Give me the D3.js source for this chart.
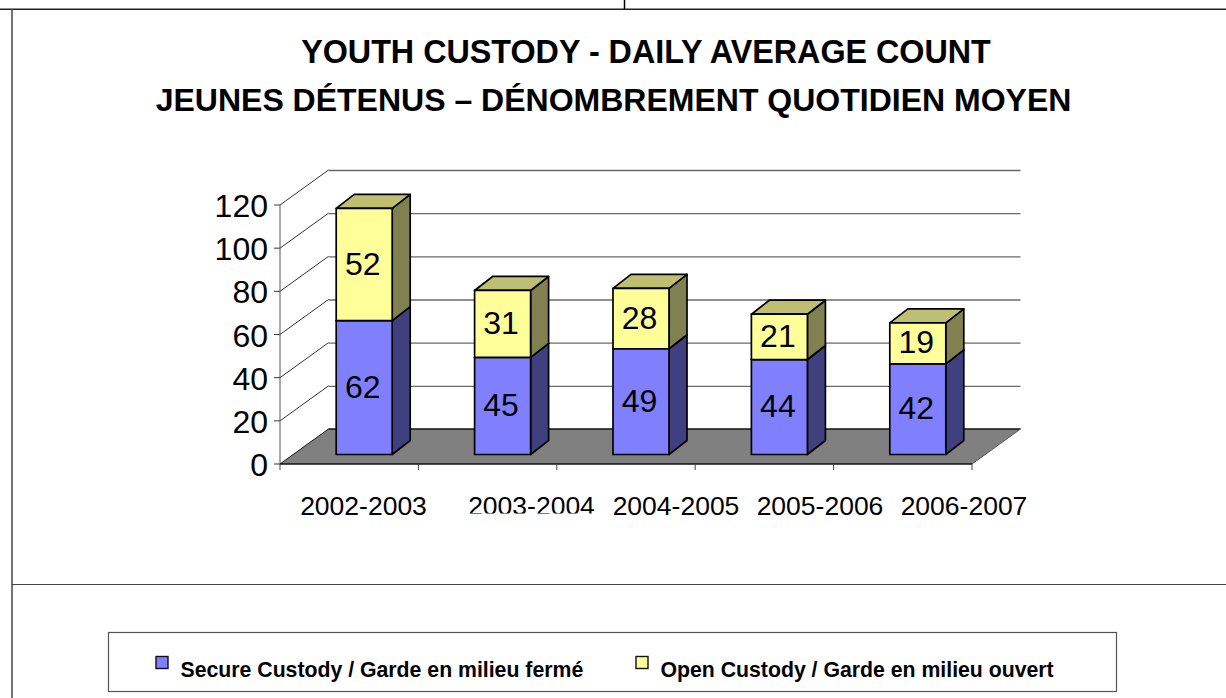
<!DOCTYPE html>
<html><head><meta charset="utf-8">
<script src="https://cdn.jsdelivr.net/npm/d3@7"></script>
<style>html,body{margin:0;padding:0;background:#fff}svg{display:block}text{font-family:"Liberation Sans",Arial,sans-serif;fill:#000}</style>
</head><body><svg id="c" width="1226" height="698"></svg>
<script>
const categories=["2002-2003","2003-2004","2004-2005","2005-2006","2006-2007"];
const secure=[62,45,49,44,42];
const open=[52,31,28,21,19];
const yTicks=[0,20,40,60,80,100,120];
const titleLines=["YOUTH CUSTODY - DAILY AVERAGE COUNT","JEUNES DÉTENUS – DÉNOMBREMENT QUOTIDIEN MOYEN"];
const legendLabels=["Secure Custody / Garde en milieu fermé","Open Custody / Garde en milieu ouvert"];

const svg=d3.select("#c");
const x=d3.scaleBand().domain(categories).range([280,972]);
const y=d3.scaleLinear().domain([0,120]).range([464,205]);
const backDx=48.5,backDy=-35,barDx=18,barDy=-14,barInX=15,barInY=-9.5,barW=56;
const poly=(pts,f,s,w)=>svg.append("polygon").attr("points",pts.map(p=>p.join(",")).join(" ")).attr("fill",f).attr("stroke",s).attr("stroke-width",w).attr("stroke-linejoin","round");
const line=(a,b,c,d,s,w)=>svg.append("line").attr("x1",a).attr("y1",b).attr("x2",c).attr("y2",d).attr("stroke",s).attr("stroke-width",w||1);

// frame
line(0,9.2,1226,9.2,"#222",1.6);
line(624.5,0,624.5,9,"#000",1.5);
line(12,9,12,698,"#444",1.5);
line(12,584.5,1226,584.5,"#444",1.2);

// titles
svg.selectAll("text.t").data(titleLines).join("text").attr("class","t")
 .attr("x",(d,i)=>i?613.5:646).attr("y",(d,i)=>i?111:62.5).attr("text-anchor","middle")
 .attr("font-size",(d,i)=>i?32:32.3).attr("font-weight","bold").text(d=>d);

// walls, gridlines
const x0=x.range()[0],x1=x.range()[1];
yTicks.forEach(t=>{
  if(t>0){ line(x0+backDx,y(t)+backDy+.5,x1+backDx,y(t)+backDy+.5,"#6a6a6a",1.4);
  line(x0,y(t),x0+backDx,y(t)+backDy,"#333",1);}
  line(x0-6,y(t),x0,y(t),"#333",1);
});
line(x0,y(0),x0,y(120),"#555",1);
// floor
poly([[x0,y(0)],[x1,y(0)],[x1+backDx,y(0)+backDy],[x0+backDx,y(0)+backDy]],"#808080","none",0);
line(x0,y(0),x1,y(0),"#111",1.6);
line(x0,y(0),x0+backDx,y(0)+backDy,"#111",1);
line(x0+backDx,y(0)+backDy,x1+backDx,y(0)+backDy,"#111",1.4);
line(x1,y(0),x1+backDx,y(0)+backDy,"#555",1);
// x ticks
d3.range(categories.length+1).forEach(i=>{const tx=x0+i*x.step();line(tx,y(0),tx,y(0)+6,"#444",1);});

// bars
const seg=[{vals:secure,f:"#8080ff",side:"#404080",top:"#606099",base:()=>0},{vals:open,f:"#ffff99",side:"#808050",top:"#bfbf73",base:i=>secure[i]}];
seg.forEach(s=>{
 categories.forEach((c,i)=>{
  const l=x(c)+barInX+x.step()/2-barW/2,r=l+barW;
  const yb=y(s.base(i))+barInY,yt=y(s.base(i)+s.vals[i])+barInY;
  poly([[r,yb],[r+barDx,yb+barDy],[r+barDx,yt+barDy],[r,yt]],s.side,"#000",1.7);
  poly([[l,yt],[r,yt],[r+barDx,yt+barDy],[l+barDx,yt+barDy]],s.top,"#000",1.7);
  poly([[l,yb],[r,yb],[r,yt],[l,yt]],s.f,"#000",1.7);
  svg.append("text").attr("x",(l+r)/2-1.5).attr("y",(yb+yt)/2+10).attr("text-anchor","middle").attr("font-size",32).text(s.vals[i]);
 });
});

// axis labels
yTicks.forEach(t=>svg.append("text").attr("x",268).attr("y",y(t)+12).attr("text-anchor","end").attr("font-size",32).text(t));
const labelX=[363.5,531.5,676,820,964];
svg.append("defs").append("clipPath").attr("id","cut").append("rect").attr("x",460).attr("y",480).attr("width",145).attr("height",33.5);
categories.forEach((c,i)=>{
  const t=svg.append("text").attr("x",labelX[i]).attr("y",515).attr("text-anchor","middle").attr("font-size",26.5).text(c);
  if(i===1) t.attr("clip-path","url(#cut)");
});

// legend
svg.append("rect").attr("x",108.5).attr("y",632.5).attr("width",1008).attr("height",59).attr("fill","#fff").attr("stroke","#555").attr("stroke-width",1.2);
[[156,"#8080ff",180.5],[636,"#ffff99",660.5]].forEach((d,i)=>{
  svg.append("rect").attr("x",d[0]).attr("y",656.5).attr("width",12).attr("height",12).attr("fill",d[1]).attr("stroke","#111").attr("stroke-width",1.4);
  svg.append("text").attr("x",d[2]).attr("y",677).attr("font-size",21.25).attr("font-weight","bold").text(legendLabels[i]);
});
</script></body></html>
